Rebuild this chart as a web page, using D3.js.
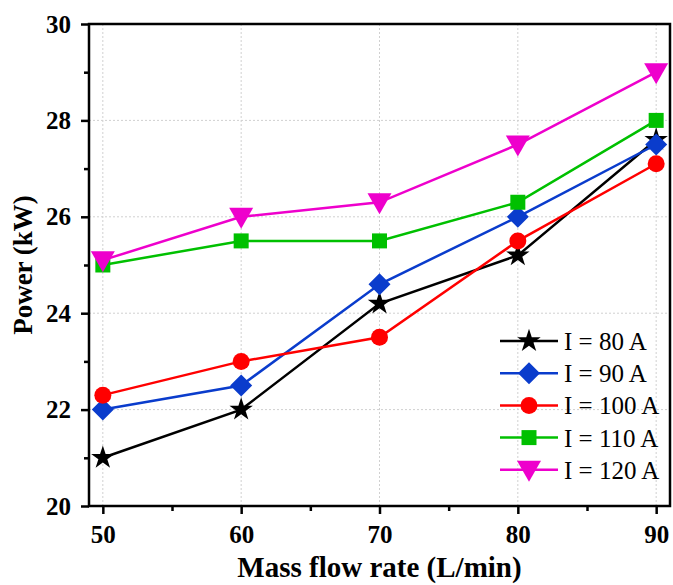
<!DOCTYPE html>
<html lang="en">
<head>
<meta charset="UTF-8">
<title>Power vs mass flow rate</title>
<style>
  body { margin: 0; background: #fff; }
  svg text { font-family: "Liberation Serif", "Times New Roman", serif; }
  .grid line { stroke: #d0d0d0; stroke-dasharray: 2,2; stroke-width: 1; }
</style>
<script src="https://d3js.org/d3.v7.min.js"></script>
</head>
<body>
<svg id="chart" width="673" height="585"></svg>
<script>
const flowRates = [50, 60, 70, 80, 90];
const seriesNames = ["I = 80 A", "I = 90 A", "I = 100 A", "I = 110 A", "I = 120 A"];
const power80 = [21, 22, 24.2, 25.2, 27.6];
const power90 = [22, 22.5, 24.6, 26, 27.5];
const power100 = [22.3, 23, 23.5, 25.5, 27.1];
const power110 = [25, 25.5, 25.5, 26.3, 28];
const power120 = [25.1, 26, 26.3, 27.5, 29];
const xTicks = [50, 60, 70, 80, 90];
const yTicks = [20, 22, 24, 26, 28, 30];

const series = [
  { name: seriesNames[0], values: power80, color: "#000000", shape: "star" },
  { name: seriesNames[1], values: power90, color: "#0a3ccc", shape: "diamond" },
  { name: seriesNames[2], values: power100, color: "#ff0000", shape: "circle" },
  { name: seriesNames[3], values: power110, color: "#00c000", shape: "square" },
  { name: seriesNames[4], values: power120, color: "#ee00cc", shape: "tri" }
];

const margin = { left: 89, top: 24, right: 3, bottom: 79 };
const width = 673, height = 585;
const svg = d3.select("#chart");

const x = d3.scaleLinear().domain([49, 91]).range([margin.left, width - margin.right]);
const y = d3.scaleLinear().domain([20, 30]).range([height - margin.bottom, margin.top]);

// grid
const grid = svg.append("g").attr("class", "grid");
grid.selectAll(".gx").data(xTicks).enter().append("line")
  .attr("x1", d => x(d)).attr("x2", d => x(d))
  .attr("y1", y(30)).attr("y2", y(20));
grid.selectAll(".gy").data(yTicks.slice(1, -1)).enter().append("line")
  .attr("x1", x(49)).attr("x2", x(91))
  .attr("y1", d => y(d)).attr("y2", d => y(d));

// frame
svg.append("rect")
  .attr("x", x(49)).attr("y", y(30))
  .attr("width", x(91) - x(49)).attr("height", y(20) - y(30))
  .attr("fill", "none").attr("stroke", "#000").attr("stroke-width", 2.5);

// axes
svg.append("g")
  .attr("transform", `translate(0,${y(20)})`)
  .call(d3.axisBottom(x).tickValues(xTicks).tickSize(8).tickPadding(11).tickFormat(d3.format("d")));
svg.append("g")
  .attr("transform", `translate(0,${y(20)})`)
  .call(d3.axisBottom(x).tickValues([55, 65, 75, 85]).tickSize(5).tickFormat(""));
svg.append("g")
  .attr("transform", `translate(${x(49)},0)`)
  .call(d3.axisLeft(y).tickValues(yTicks).tickSize(8).tickPadding(10).tickFormat(d3.format("d")));
svg.append("g")
  .attr("transform", `translate(${x(49)},0)`)
  .call(d3.axisLeft(y).tickValues([21, 23, 25, 27, 29]).tickSize(5).tickFormat(""));

svg.selectAll(".domain").remove();
svg.selectAll(".tick line").attr("stroke", "#000").attr("stroke-width", 2.5);
svg.selectAll(".tick text")
  .attr("font-family", "'Liberation Serif', serif")
  .attr("font-size", 25).attr("font-weight", "bold").attr("fill", "#000");

// axis titles
svg.append("text")
  .attr("x", (x(49) + x(91)) / 2).attr("y", 577)
  .attr("text-anchor", "middle").attr("font-size", 29).attr("font-weight", "bold")
  .text("Mass flow rate (L/min)");
svg.append("text")
  .attr("transform", `translate(32,${(y(20) + y(30)) / 2}) rotate(-90)`)
  .attr("text-anchor", "middle").attr("font-size", 27).attr("font-weight", "bold")
  .text("Power (kW)");

function marker(g, s, cx, cy) {
  let p;
  if (s.shape === "tri") {
    p = `M${cx - 12},${cy - 9}L${cx + 12},${cy - 9}L${cx},${cy + 12}Z`;
  } else if (s.shape === "diamond") {
    p = `M${cx},${cy - 11}L${cx + 11},${cy}L${cx},${cy + 11}L${cx - 11},${cy}Z`;
  } else if (s.shape === "square") {
    p = `M${cx - 7.5},${cy - 7.5}h15v15h-15Z`;
  } else if (s.shape === "circle") {
    g.append("circle").attr("cx", cx).attr("cy", cy).attr("r", 8.5).attr("fill", s.color);
    return;
  } else {
    g.append("path")
      .attr("d", d3.symbol().type(d3.symbolStar).size(170)())
      .attr("transform", `translate(${cx},${cy})`)
      .attr("fill", s.color);
    return;
  }
  g.append("path").attr("d", p).attr("fill", s.color);
}

const line = d3.line().x((d, i) => x(flowRates[i])).y(d => y(d));

series.forEach(s => {
  const g = svg.append("g");
  g.append("path").datum(s.values)
    .attr("d", line).attr("fill", "none")
    .attr("stroke", s.color).attr("stroke-width", 2.5);
  s.values.forEach((v, i) => marker(g, s, x(flowRates[i]), y(v)));
});

// legend
const legend = svg.append("g");
series.forEach((s, i) => {
  const ly = 341 + i * 32.2;
  legend.append("line")
    .attr("x1", 500).attr("x2", 558).attr("y1", ly).attr("y2", ly)
    .attr("stroke", s.color).attr("stroke-width", 2.5);
  marker(legend, s, 529, ly);
  legend.append("text")
    .attr("x", 564).attr("y", ly + 9)
    .attr("font-size", 25).attr("fill", "#000")
    .text(s.name);
});
</script>
</body>
</html>
